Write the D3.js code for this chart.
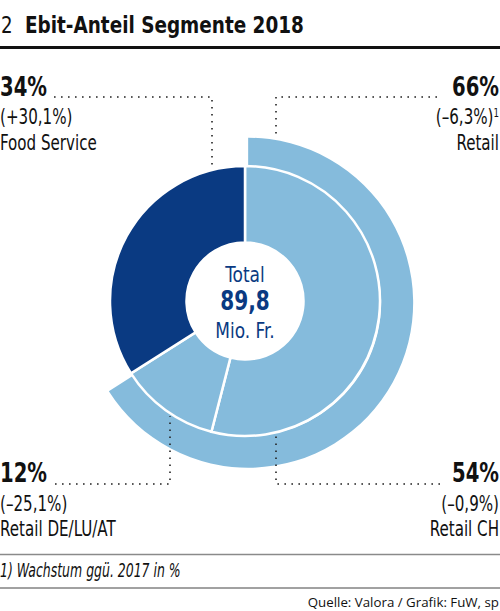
<!DOCTYPE html>
<html>
<head>
<meta charset="utf-8">
<script src="https://cdn.jsdelivr.net/npm/d3@7"></script>
<style>
  html, body { margin: 0; padding: 0; background: #fff; }
  svg { display: block; }
  text { font-family: "Liberation Sans Narrow", "DejaVu Sans Condensed", sans-serif; fill: #111; }
  .big { font-weight: bold; font-size: 26px; }
  .lab { font-size: 21px; }
  .dots { stroke: #222; stroke-width: 1.6; stroke-dasharray: 1.6 5.4; fill: none; }
</style>
</head>
<body>
<svg id="chart" width="500" height="611"></svg>
<script>
// данные
const segments = ["Retail CH", "Retail DE/LU/AT", "Food Service"];
const shares = [54, 12, 34];
const growth = ["(–0,9%)", "(–25,1%)", "(+30,1%)"];
const groups = ["Retail", "Food Service"];
const groupShares = [66, 34];
const groupGrowth = ["(–6,3%)", "(+30,1%)"];
const total = "89,8";

const colInner = ["#85bbdc", "#85bbdc", "#0a3a82"];
const colRing = "#85bbdc";
const navy = "#0a3a82";

const svg = d3.select("#chart");
const W = 500;
const cx = 245, cy = 301;
const rHole = 58.5, rPie = 135, rRing = 165;

// узкий шрифт: сжимаем текст по горизонтали
function txt(parent, x, y, str, opt = {}) {
  let t = parent.append("text")
    .attr("transform", `translate(${x},${y}) scale(${opt.sx || 0.8},1)`)
    .attr("text-anchor", opt.anchor || "start");
  if (opt.cls) t.attr("class", opt.cls);
  if (opt.size) t.style("font-size", opt.size + "px");
  if (opt.bold) t.style("font-weight", "bold");
  if (opt.italic) t.style("font-style", "italic");
  if (opt.fill) t.style("fill", opt.fill);
  if (str !== null) t.text(str);
  return t;
}

// заголовок
txt(svg, 1, 33, "2", { size: 23, sx: 0.88 });
txt(svg, 25, 33, "Ebit-Anteil Segmente 2018", { size: 23, bold: true, sx: 0.89 });
svg.append("line").attr("x1", 0).attr("x2", W).attr("y1", 47.5).attr("y2", 47.5)
  .attr("stroke", "#111").attr("stroke-width", 3);

// внешнее кольцо (Retail), немного смещено наружу
const pie = d3.pie().sort(null).value(d => d);
const ringSlices = pie(groupShares);
const rs = ringSlices[0];
const mid = (rs.startAngle + rs.endAngle) / 2;
const off = 3.6;
const ox = cx + Math.sin(mid) * off, oy = cy - Math.cos(mid) * off;
const ringArc = d3.arc().innerRadius(rPie - 2).outerRadius(rRing);
svg.append("path")
  .attr("transform", `translate(${ox},${oy})`)
  .attr("d", ringArc(rs))
  .attr("fill", colRing);

// внутренний круг
const innerArc = d3.arc().innerRadius(rHole).outerRadius(rPie);
const g = svg.append("g").attr("transform", `translate(${cx},${cy})`);
g.selectAll("path.seg")
  .data(pie(shares))
  .enter()
  .append("path")
  .attr("class", "seg")
  .attr("d", innerArc)
  .attr("fill", (d, i) => colInner[i])
  .attr("stroke", "#fff")
  .attr("stroke-width", 2.5)
  .attr("stroke-linejoin", "miter");

// центр
txt(g, 0, -19, "Total", { anchor: "middle", size: 22, fill: navy, sx: 0.86 });
txt(g, 0, 9, total, { anchor: "middle", size: 26, bold: true, fill: navy, sx: 0.86 });
txt(g, 0, 37, "Mio. Fr.", { anchor: "middle", size: 22, fill: navy, sx: 0.86 });

// точка на окружности по x
const edgeY = (x, r, cyy, cxx, sign) => cyy + sign * Math.sqrt(r * r - (x - cxx) * (x - cxx));

// выноски
function leader(pts) {
  svg.append("path").attr("class", "dots")
    .attr("d", d3.line()(pts));
}
// Food Service (слева сверху)
leader([[54, 97], [212, 97], [212, edgeY(212, rPie, cy, cx, -1) - 1]]);
// Retail (справа сверху)
leader([[437, 97], [276, 97], [276, edgeY(276, rRing, oy, ox, -1) - 6]]);
// Retail DE/LU/AT (слева снизу)
leader([[55, 484], [170, 484], [170, edgeY(170, rPie, cy, cx, 1) + 3]]);
// Retail CH (справа снизу)
leader([[440, 484], [276, 484], [276, edgeY(276, rPie, cy, cx, 1) + 2]]);

const pct = v => v + "%";

// слева сверху
txt(svg, 0, 96, pct(shares[2]), { cls: "big", sx: 0.84 });
txt(svg, 0, 124, growth[2], { cls: "lab" });
txt(svg, 0, 150, segments[2], { cls: "lab" });

// справа сверху
txt(svg, 499, 96, pct(groupShares[0]), { cls: "big", anchor: "end", sx: 0.84 });
const t66 = txt(svg, 499, 124, null, { cls: "lab", anchor: "end" });
t66.append("tspan").text(groupGrowth[0]);
t66.append("tspan").attr("dy", -7).style("font-size", "12px").text("1");
txt(svg, 499, 150, groups[0], { cls: "lab", anchor: "end" });

// слева снизу
txt(svg, 0, 482, pct(shares[1]), { cls: "big", sx: 0.84 });
txt(svg, 0, 511, growth[1], { cls: "lab" });
txt(svg, 0, 536, segments[1], { cls: "lab" });

// справа снизу
txt(svg, 499, 482, pct(shares[0]), { cls: "big", anchor: "end", sx: 0.84 });
txt(svg, 499, 511, growth[0], { cls: "lab", anchor: "end" });
txt(svg, 499, 536, segments[0], { cls: "lab", anchor: "end" });

// сноска
svg.append("line").attr("x1", 0).attr("x2", W).attr("y1", 554.5).attr("y2", 554.5)
  .attr("stroke", "#8a8a8a").attr("stroke-width", 1.5);
txt(svg, 0, 577, "1) Wachstum ggü. 2017 in %", { size: 19, italic: true, sx: 0.73 });
svg.append("line").attr("x1", 0).attr("x2", W).attr("y1", 588).attr("y2", 588)
  .attr("stroke", "#444").attr("stroke-width", 1);
svg.append("text").attr("x", 499).attr("y", 607).attr("text-anchor", "end")
  .style("font-family", "'Open Sans', 'Noto Sans', sans-serif").style("font-size", "13.3px")
  .text("Quelle: Valora / Grafik: FuW, sp");
</script>
</body>
</html>
